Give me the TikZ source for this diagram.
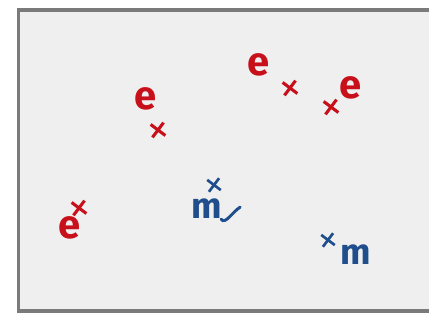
\documentclass[tikz,border=0pt]{standalone}
\usepackage{fontspec}
\setsansfont{Fira Sans}
\usepackage{xcolor}
\usetikzlibrary{shapes.misc, positioning}
\definecolor{ered}{HTML}{C8101A}
\definecolor{mblue}{HTML}{1F4E8C}
\definecolor{boxgray}{HTML}{EFEFEF}
\definecolor{framegray}{HTML}{7A7A7A}

\begin{document}
\begin{tikzpicture}[x=0.75pt, y=-0.75pt,
    elabel/.style={text=ered, font=\sffamily\bfseries\fontsize{30}{30}\selectfont, inner sep=0pt},
    mlabel/.style={text=mblue, font=\sffamily\bfseries\fontsize{27}{27}\selectfont, inner sep=0pt},
    ecross/.style={draw=ered, cross out, line width=2.3pt, minimum size=7.5pt, inner sep=0pt, rotate=8},
    mcross/.style={draw=mblue, cross out, line width=2pt, minimum size=7pt, inner sep=0pt, rotate=8}]
    \useasboundingbox (0,0) rectangle (429,320);
    \draw[framegray, line width=2.3pt, fill=boxgray] (18.5,10) rectangle (445,311);

    % electrons
    \node[elabel] (e1) at (146,99) {e};
    \node[ecross] (x1) at (158,130) {};
    \node[elabel] (e2) at (259,65) {e};
    \node[ecross] (x2) at (290,88) {};
    \node[elabel] (e3) at (351,88) {e};
    \node[ecross] (x3) at (331,107) {};
    \node[elabel] (e4) at (70,228) {e};
    \node[ecross] (x4) at (79,208) {};

    % muons
    \node[mlabel] (m1) at (207,209) {m};
    \node[mcross] (y1) at (214,185) {};
    \draw[mblue, line width=2.2pt, line cap=round] ([xshift=-1pt]m1.south east) .. controls +(4,6) and +(-8,5) .. +(19,-12);
    \node[mlabel] (m2) at (356,255) {m};
    \node[mcross] (y2) at (328,240) {};
\end{tikzpicture}
\end{document}
